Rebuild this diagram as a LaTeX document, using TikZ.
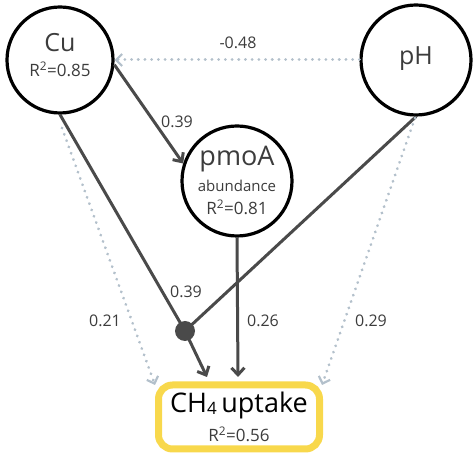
\documentclass[tikz,border=0pt]{standalone}
\usepackage{fontspec}
\setmainfont{Open Sans}
\usetikzlibrary{arrows.meta}
\definecolor{solidgray}{HTML}{4A4A4A}
\definecolor{dotblue}{HTML}{B3C0CB}
\definecolor{boxyellow}{HTML}{F8D84C}
\definecolor{txtgray}{HTML}{3C3C3C}
\begin{document}
\begin{tikzpicture}[x=1pt,y=1pt,
  var/.style={circle,draw=black,line width=3.2pt,inner sep=0pt},
  big/.style={font=\fontsize{25}{27}\selectfont,text=txtgray},
  small/.style={font=\fontsize{15}{17}\selectfont,text=txtgray},
  rsq/.style={font=\fontsize{17}{19}\selectfont,text=txtgray},
  coef/.style={font=\fontsize{16}{18}\selectfont,text=txtgray},
  path1/.style={draw=solidgray,line width=3pt},
  path2/.style={draw=dotblue,line width=3pt,line cap=round,dash pattern=on 0.1pt off 6.6pt},
  tip1/.style={-{Straight Barb[length=7pt,width=13pt,line width=3pt]}},
  tip2/.style={-{Straight Barb[length=6pt,width=12pt,line width=2.2pt]}}
]
\useasboundingbox (0,0) rectangle (474,455);
% variables
\node[var,minimum size=106pt] (cu) at (60,395) {};
\node[var,minimum size=110pt] (ph) at (416,395) {};
\node[var,minimum size=110pt] (pmoa) at (237,274) {};
\node[draw=boxyellow,line width=7pt,rounded corners=14pt,minimum width=161pt,minimum height=64pt] (ch4) at (239,38) {};
\node[big] (cut) at (60,412) {Cu};
\node[rsq] (cur) at (60,386) {R\textsuperscript{2}=0.85};
\node[big] (pht) at (416,396) {pH};
\node[big,font=\fontsize{27}{29}\selectfont] (pmt) at (237,296) {pmoA};
\node[small] (pma) at (237,269) {abundance};
\node[rsq] (pmr) at (237,248) {R\textsuperscript{2}=0.81};
\node[font=\fontsize{27}{29}\selectfont,text=black] (cht) at (239,50) {CH\raisebox{-2pt}{\fontsize{17}{17}\selectfont 4}\,uptake};
\node[rsq] (chr) at (239,21) {R\textsuperscript{2}=0.56};
% junction
\node[circle,fill=solidgray,minimum size=20pt,inner sep=0pt] (dot) at (185,124) {};
% free ends
\coordinate (e1) at (207,78);
\coordinate (e2) at (238,78);
\coordinate (e3) at (155,70);
\coordinate (e4) at (322,70);
\coordinate (s3) at (62,327);
\coordinate (s4) at (415,337);
% solid paths
\draw[path1,tip1] (cu.-5) -- (pmoa.162);
\draw[path1] (cu.-90) -- (dot.center);
\draw[path1] (ph.-90) -- (dot.center);
\draw[path1,tip1] (dot.center) -- (e1);
\draw[path1,tip1] (pmoa.south) -- (e2);
% dotted paths
\draw[path2,tip2] (ph.west) -- (cu.east);
\draw[path2,tip2] (s3) -- (e3);
\draw[path2,tip2] (s4) -- (e4);
% coefficients
\node[coef] (c1) at (238,412) {-0.48};
\node[coef] (c2) at (177,333) {0.39};
\node[coef] (c3) at (186,163) {0.39};
\node[coef] (c4) at (105,134) {0.21};
\node[coef] (c5) at (263,134) {0.26};
\node[coef] (c6) at (371,134) {0.29};
\end{tikzpicture}
\end{document}
